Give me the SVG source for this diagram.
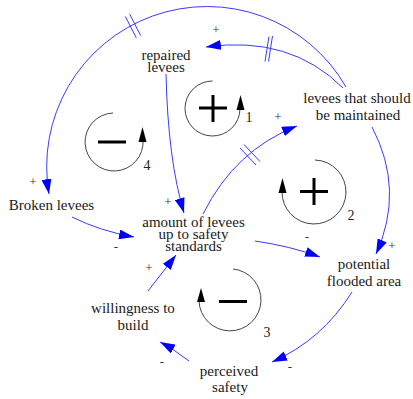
<svg xmlns="http://www.w3.org/2000/svg" width="413" height="399" viewBox="0 0 413 399">
<style>
.t{font-family:'Liberation Serif','DejaVu Serif',serif;font-size:15px;fill:#1a1a1a;text-anchor:middle}
.p{font-family:'Liberation Serif','DejaVu Serif',serif;font-size:13px;fill:#333;text-anchor:middle}
.n{font-family:'Liberation Serif','DejaVu Serif',serif;font-size:14px;fill:#222;text-anchor:middle}
.c{fill:none;stroke:#3a3aff;stroke-width:1;marker-end:url(#ab)}
.h{stroke:#3a3aff;stroke-width:1}
.la{fill:none;stroke:#444;stroke-width:1}
.ls{stroke:#000;stroke-width:3}
</style>
<defs>
<marker id="ab" viewBox="0 0 15 10" refX="15" refY="5" markerWidth="15" markerHeight="10" markerUnits="userSpaceOnUse" orient="auto"><path d="M0,0 L15,5 L0,10 z" fill="#0000ff"/></marker>
</defs>
<g id="connectors">
<path class="c" d="M343,88 Q290,35 206,47"/>
<path class="c" d="M346,87 A160.3 160.3 0 0 0 49,194"/>
<path class="c" d="M372,127 Q405,190 376,254"/>
<path class="c" d="M166,74 Q168,160 184,213"/>
<path class="c" d="M72,217 Q100,231 134,237"/>
<path class="c" d="M203,214 Q235,150 297,126"/>
<path class="c" d="M255,241 Q290,246 320,257"/>
<path class="c" d="M352,292 Q322,340 272,362"/>
<path class="c" d="M189,361 Q175,350 160,342"/>
<path class="c" d="M148,291 L176,255"/>
<line class="h" x1="125.3" y1="16.4" x2="136.3" y2="37.8"/>
<line class="h" x1="129.7" y1="14.2" x2="140.7" y2="35.6"/>
<line class="h" x1="265" y1="61.5" x2="269" y2="36.5"/>
<line class="h" x1="268.5" y1="61.5" x2="272.5" y2="36"/>
<line class="h" x1="240" y1="148" x2="256" y2="165"/>
<line class="h" x1="244" y1="144.5" x2="260" y2="161.5"/>
<text class="p" x="216" y="34">+</text>
<text class="p" x="33" y="186">+</text>
<text class="p" x="278" y="121">+</text>
<text class="p" x="168" y="206">+</text>
<text class="p" x="116" y="251">-</text>
<text class="p" x="307" y="241">-</text>
<text class="p" x="392" y="250">+</text>
<text class="p" x="290" y="371">-</text>
<text class="p" x="162" y="366">-</text>
<text class="p" x="149" y="272">+</text>
</g>
<g id="loop1">
<path class="la" d="M212.5,81 A27.5 27.5 0 1 0 240,109"/>
<polygon points="240.5,95 236.5,110 244.5,110" fill="#000"/>
<line class="ls" x1="199" y1="108" x2="227" y2="108"/>
<line class="ls" x1="213" y1="95" x2="213" y2="122"/>
<text class="n" x="249" y="122">1</text>
</g>
<g id="loop2">
<path class="la" d="M315,160 A32 32 0 1 1 282,191"/>
<polygon points="282.5,178 278.5,193 286.5,193" fill="#000"/>
<line class="ls" x1="300" y1="191.5" x2="328" y2="191.5"/>
<line class="ls" x1="314" y1="178" x2="314" y2="205"/>
<text class="n" x="351" y="220">2</text>
</g>
<g id="loop3">
<path class="la" d="M233,269 A31 31 0 1 1 199,301"/>
<polygon points="201,288 197,302 205,302" fill="#000"/>
<line class="ls" x1="219" y1="301.5" x2="247" y2="301.5"/>
<text class="n" x="267" y="337">3</text>
</g>
<g id="loop4">
<path class="la" d="M113,113 A29 29 0 1 0 143,140"/>
<polygon points="142.5,127 138.5,142 146.5,142" fill="#000"/>
<line class="ls" x1="98" y1="142" x2="126" y2="142"/>
<text class="n" x="147" y="170">4</text>
</g>
<g id="repaired_levees">
<text class="t" x="166" y="59.5">repaired</text>
<text class="t" x="166" y="71.5">levees</text>
</g>
<g id="levees_maintained">
<text class="t" x="357" y="103">levees that should</text>
<text class="t" x="358" y="120">be maintained</text>
</g>
<g id="broken_levees">
<text class="t" x="51.5" y="210">Broken levees</text>
</g>
<g id="amount_levees">
<text class="t" x="193.5" y="226.5">amount of levees</text>
<text class="t" x="193.5" y="238.5">up to safety</text>
<text class="t" x="193.5" y="250.5">standards</text>
</g>
<g id="potential_flooded">
<text class="t" x="364" y="269">potential</text>
<text class="t" x="364" y="286">flooded area</text>
</g>
<g id="willingness">
<text class="t" x="133" y="312.5">willingness to</text>
<text class="t" x="133" y="329.5">build</text>
</g>
<g id="perceived_safety">
<text class="t" x="229" y="376">perceived</text>
<text class="t" x="230" y="392">safety</text>
</g>
</svg>
